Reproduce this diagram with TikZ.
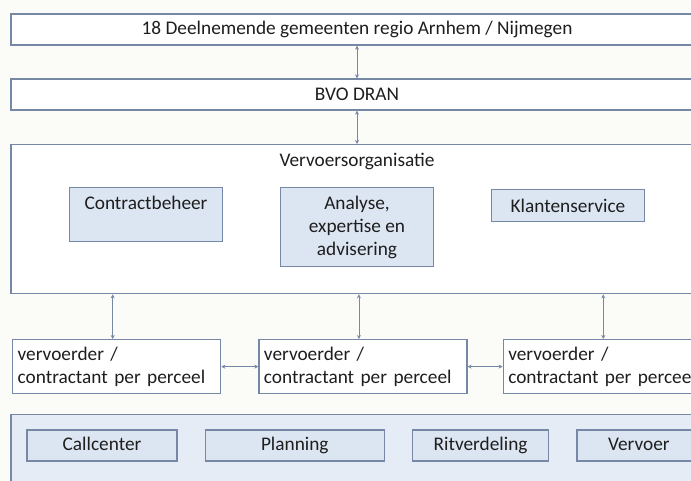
\documentclass[tikz,border=0pt]{standalone}
\usepackage{fontspec}
\setmainfont{Carlito}
\usetikzlibrary{positioning,arrows.meta}
\definecolor{edge}{RGB}{118,136,166}
\definecolor{boxfill}{RGB}{220,230,242}
\definecolor{bandfill}{RGB}{229,236,246}
\definecolor{paper}{RGB}{251,251,248}
\definecolor{ink}{RGB}{30,30,30}

\begin{document}
\begin{tikzpicture}[x=1pt, y=-1pt, font=\fontsize{19.3}{23}\selectfont, text=ink,
    wide/.style={draw=edge, line width=1.3pt, fill=white, minimum width=692pt, minimum height=31pt, inner sep=0pt},
    sub/.style={draw=edge, line width=1.3pt, fill=boxfill, minimum width=153pt, inner sep=0pt},
    carrier/.style={draw=edge, line width=1.3pt, fill=white, minimum width=208pt, minimum height=54pt, text width=198pt, align=left, inner sep=0pt},
    task/.style={draw=edge, line width=1.3pt, fill=boxfill, minimum height=31pt, text height=13.5pt, text depth=4.5pt, inner sep=0pt},
    link/.style={draw=edge, line width=0.9pt, {Stealth[length=4pt,width=4pt]}-{Stealth[length=4pt,width=4pt]}}]
    \useasboundingbox (0,0) rectangle (691,481);
    \clip (0,0) rectangle (691,481);
    \fill[paper] (0,0) rectangle (691,481);
    \node[wide] (gem) at (357,29.5) {18 Deelnemende gemeenten regio Arnhem / Nijmegen};
    \node[wide] (bvo) at (357,94.5) {BVO DRAN};
    \node[wide, minimum height=149pt, anchor=north] (vo) at (357,144) {};
    \node[below=6pt of vo.north] (votitle) {Vervoersorganisatie};
    \node[sub, anchor=north, inner ysep=4pt, text height=18pt, text depth=28pt] (beheer) at (146,187) {Contractbeheer};
    \node[sub, anchor=north, minimum height=79pt, align=center] (analyse) at (357,187) {Analyse,\\expertise en\\advisering};
    \node[sub, anchor=north, minimum height=32pt] (klant) at (568,189) {Klantenservice};
    \node[carrier, anchor=north west] (v1) at (12,339) {vervoerder /\\contractant per perceel};
    \node[carrier, right=37pt of v1] (v2) {vervoerder /\\contractant per perceel};
    \node[carrier, right=35pt of v2] (v3) {vervoerder /\\contractant per perceel};
    \node[wide, fill=bandfill, minimum height=90pt, anchor=north] (band) at (357,414) {};
    \node[task, minimum width=150pt] (call) at (102,445.5) {Callcenter};
    \node[task, minimum width=179pt, right=27pt of call] (plan) {Planning};
    \node[task, minimum width=136pt, right=27pt of plan] (rit) {Ritverdeling};
    \node[task, minimum width=124pt, right=27pt of rit] (vervoer) {Vervoer};
    \draw[link] (gem) -- (bvo);
    \draw[link] (bvo) -- (vo);
    \foreach \v in {v1,v2,v3}
        \draw[link] ([xshift=-4pt]\v.north |- vo.south) -- ([xshift=-4pt]\v.north);
    \draw[link] (v1) -- (v2);
    \draw[link] (v2) -- (v3);
\end{tikzpicture}
\end{document}
